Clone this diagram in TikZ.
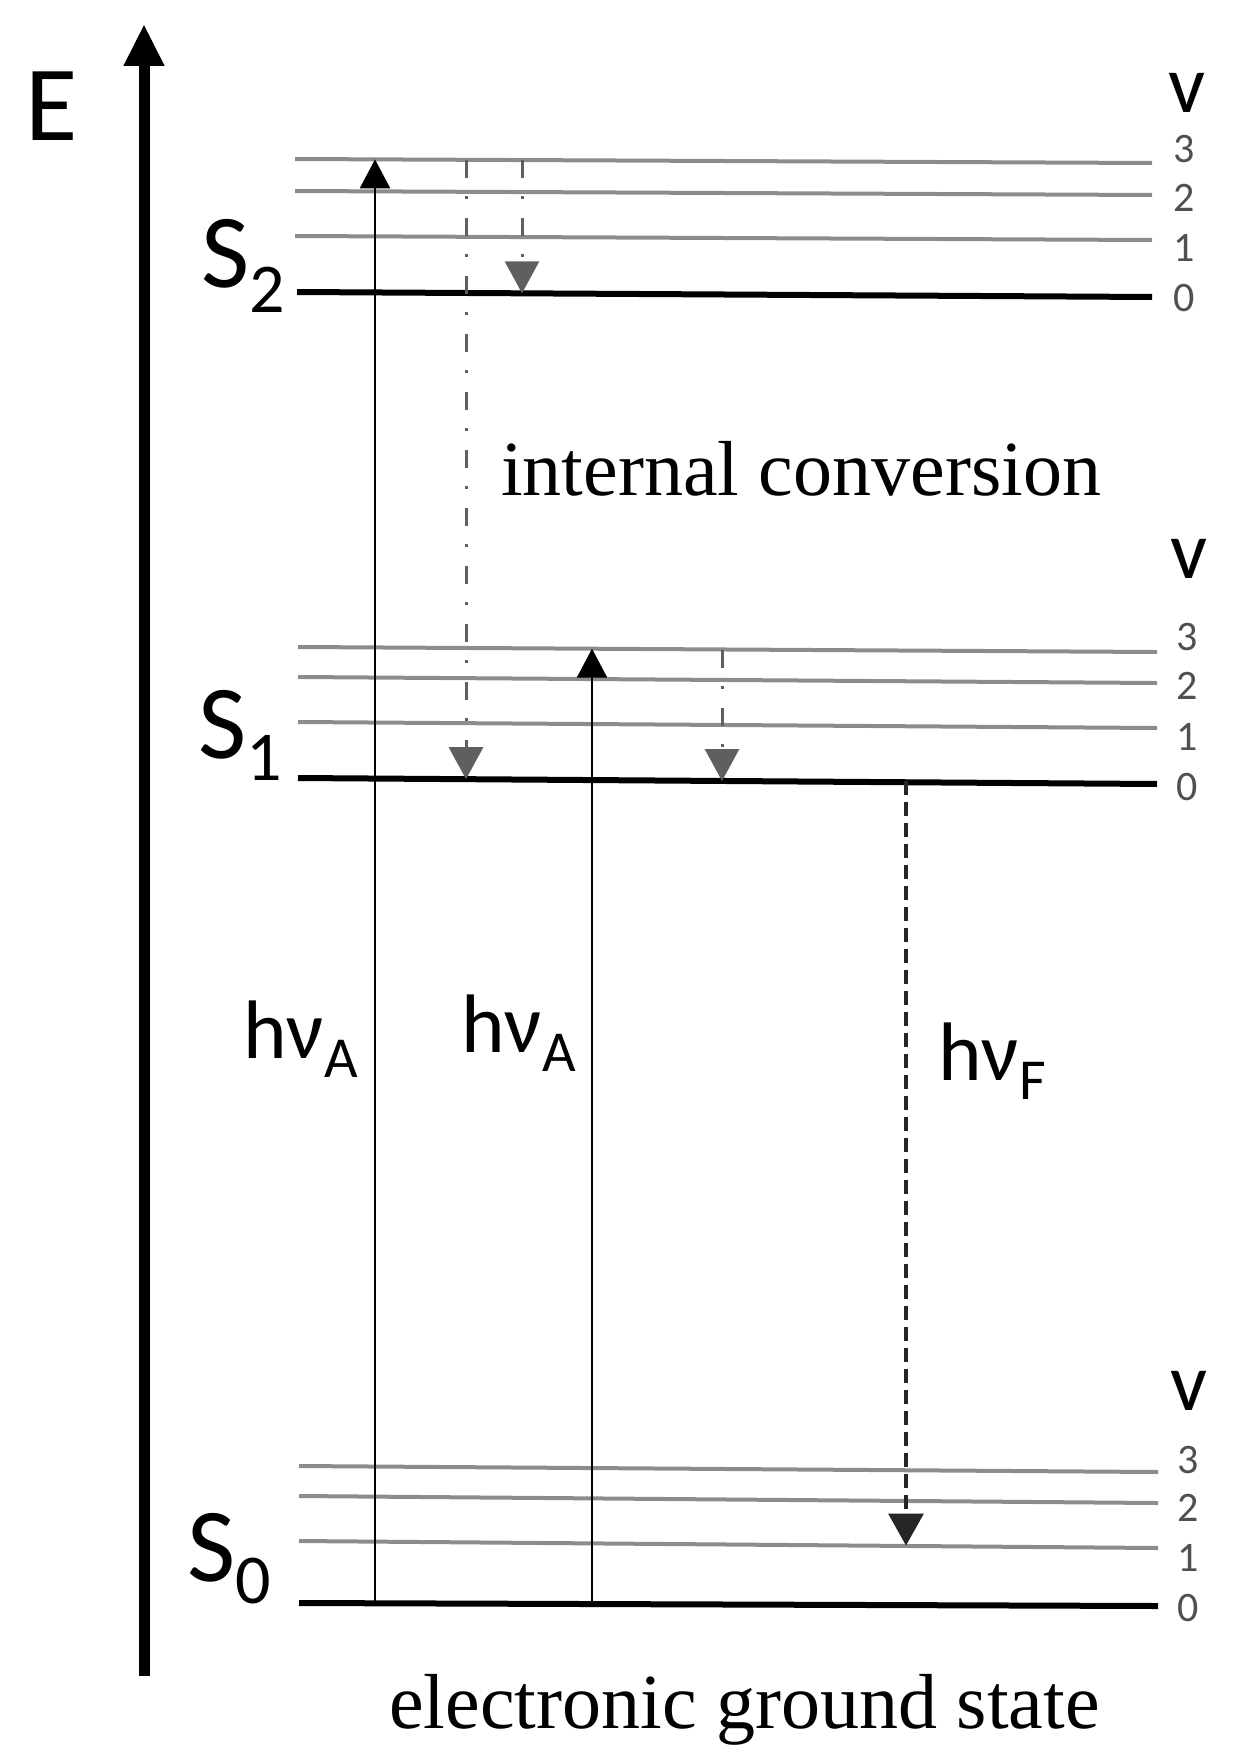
\documentclass[tikz,border=0pt]{standalone}
\usepackage{fontspec}
\setmainfont{Liberation Serif}
\newfontfamily\carl{Carlito}
\usetikzlibrary{arrows.meta}
\definecolor{lvlgray}{RGB}{140,140,140}
\definecolor{icgray}{RGB}{95,95,95}
\definecolor{numgray}{RGB}{80,80,80}
\begin{document}
\begin{tikzpicture}[x=1pt,y=-1pt,
  hi/.style={line width=4pt, draw=lvlgray},
  ground/.style={line width=6pt, draw=black},
  axis/.style={line width=11pt, draw=black, -{Triangle[width=38pt,length=42pt]}},
  absorb/.style={line width=2.5pt, draw=black, -{Triangle[width=30pt,length=29pt]}},
  icline/.style={line width=3pt, draw=icgray, dash pattern=on 18pt off 18pt on 3pt off 19pt},
  icarrow/.style={icline, -{Triangle[width=34pt,length=32pt]}},
  fluor/.style={line width=3.5pt, draw=black!85, dash pattern=on 14pt off 7pt, -{Triangle[width=35pt,length=32pt]}},
  lbl/.style={inner sep=0pt, anchor=base west},
  vlbl/.style={inner sep=0pt, anchor=base, font=\carl\fontsize{82}{82}\selectfont},
  num/.style={inner sep=0pt, anchor=center, text=numgray, font=\carl\fontsize{42}{42}\selectfont},
  serif/.style={inner sep=0pt, anchor=base west, font=\fontsize{78}{78}\selectfont}
]
\useasboundingbox (0,0) rectangle (1236,1763);

% energy axis
\coordinate (axb) at (144,1676);
\coordinate (axt) at (144,24);
\draw[axis] (axb) -- (axt);
\node[lbl] (E) at (25,141) {\carl\fontsize{107}{107}\selectfont E};

% S2 levels
\draw[hi] (295,159) coordinate (s2v3l) -- (1152,163) coordinate (s2v3r);
\draw[hi] (295,191) coordinate (s2v2l) -- (1152,195) coordinate (s2v2r);
\draw[hi] (295,236) coordinate (s2v1l) -- (1152,240) coordinate (s2v1r);
\draw[ground] (297,292) coordinate (s2v0l) -- (1152,297) coordinate (s2v0r);

% S1 levels
\draw[hi] (298,647) coordinate (s1v3l) -- (1157,652) coordinate (s1v3r);
\draw[hi] (298,677) coordinate (s1v2l) -- (1157,683) coordinate (s1v2r);
\draw[hi] (298,722) coordinate (s1v1l) -- (1157,728) coordinate (s1v1r);
\draw[ground] (298,778) coordinate (s1v0l) -- (1157,784) coordinate (s1v0r);

% S0 levels
\draw[hi] (299,1466) coordinate (s0v3l) -- (1158,1472) coordinate (s0v3r);
\draw[hi] (299,1496) coordinate (s0v2l) -- (1158,1503) coordinate (s0v2r);
\draw[hi] (299,1541) coordinate (s0v1l) -- (1158,1548) coordinate (s0v1r);
\draw[ground] (299,1603) coordinate (s0v0l) -- (1158,1606) coordinate (s0v0r);

% state labels
\node[lbl] (S2) at (201,287) {\carl\fontsize{105}{105}\selectfont S\raisebox{-25pt}{\fontsize{70}{70}\selectfont 2}};
\node[lbl] (S1) at (198,758) {\carl\fontsize{105}{105}\selectfont S\raisebox{-22pt}{\fontsize{70}{70}\selectfont 1}};
\node[lbl] (S0) at (187,1581) {\carl\fontsize{105}{105}\selectfont S\raisebox{-22pt}{\fontsize{70}{70}\selectfont 0}};

% vibrational labels
\node[vlbl] (v2) at (1187,113) {v};
\node[num] (n23) at (1184,149) {3};
\node[num] (n22) at (1184,198) {2};
\node[num] (n21) at (1184,248) {1};
\node[num] (n20) at (1184,298) {0};

\node[vlbl] (v1) at (1189,578) {v};
\node[num] (n13) at (1187,637) {3};
\node[num] (n12) at (1187,686) {2};
\node[num] (n11) at (1187,737) {1};
\node[num] (n10) at (1187,787) {0};

\node[vlbl] (v0) at (1189,1410) {v};
\node[num] (n03) at (1188,1460) {3};
\node[num] (n02) at (1188,1508) {2};
\node[num] (n01) at (1188,1558) {1};
\node[num] (n00) at (1188,1608) {0};

% transition end points
\coordinate (a1s) at (375,1603.4);
\coordinate (a1e) at (375,159.4);
\coordinate (a2s) at (592,1604);
\coordinate (a2e) at (592,648.7);
\coordinate (ics) at (466,160);
\coordinate (ice) at (466,779.2);
\coordinate (r2s) at (522,160);
\coordinate (r2e) at (522,293.3);
\coordinate (r1s) at (722,649.5);
\coordinate (r1e) at (722,781);
\coordinate (fs) at (906,781.2);
\coordinate (fe) at (906,1545.5);

\draw[absorb] (a1s) -- (a1e);
\draw[absorb] (a2s) -- (a2e);
\draw[icarrow] (ics) -- (ice);
\draw[icarrow] (r2s) -- (r2e);
\draw[icarrow] (r1s) -- (r1e);
\draw[fluor] (fs) -- (fe);

% transition labels
\node[lbl] (hA1) at (243,1058) {\carl\fontsize{83}{83}\selectfont hν\raisebox{-19pt}{\fontsize{58}{58}\selectfont A}};
\node[lbl] (hA2) at (461,1052) {\carl\fontsize{83}{83}\selectfont hν\raisebox{-19pt}{\fontsize{58}{58}\selectfont A}};
\node[lbl] (hF) at (938,1080) {\carl\fontsize{83}{83}\selectfont hν\raisebox{-19pt}{\fontsize{58}{58}\selectfont F}};

\node[serif] (ic) at (501,495) {internal conversion};
\node[serif] (gs) at (389,1728) {electronic ground state};
\end{tikzpicture}
\end{document}
